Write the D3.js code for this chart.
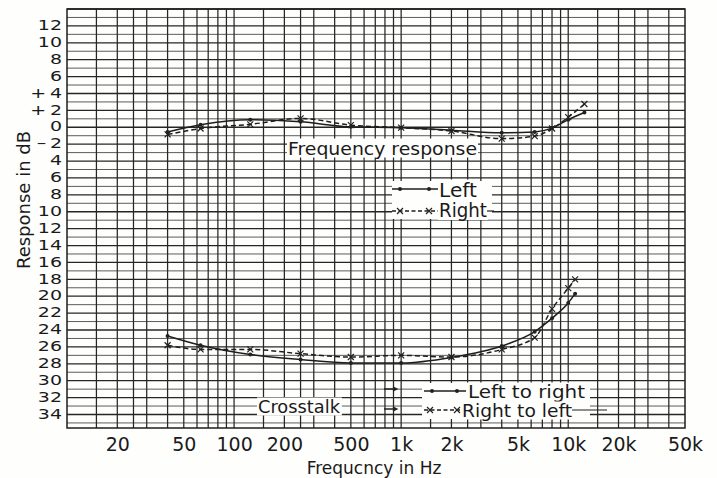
<!DOCTYPE html>
<html><head><meta charset="utf-8">
<script src="https://cdn.jsdelivr.net/npm/d3@7"></script>
<style>
html,body{margin:0;padding:0;background:#fff;}
svg{display:block;font-family:"DejaVu Sans",sans-serif;}
</style></head>
<body><div id="chart"></div>
<script>
// ---- data ----
const frFreqs = [40, 63, 125, 250, 500, 1000, 2000, 4000, 6300, 8000, 10000, 12500];
const frLeft  = [-0.55, 0.3, 0.9, 0.65, 0.05, -0.05, -0.35, -0.65, -0.55, -0.1, 0.9, 1.75];
const frRight = [-0.85, -0.15, 0.35, 1.05, 0.25, -0.05, -0.45, -1.35, -1.05, -0.15, 1.2, 2.75];
const ctFreqs = [40, 63, 125, 250, 500, 1000, 2000, 4000, 6300, 8000, 10000, 11000];
const ctLeftToRight = [-24.7, -25.8, -26.9, -27.5, -27.9, -27.9, -27.25, -25.9, -24.2, -22.6, -20.8, -19.7];
const ctRightToLeft = [-25.8, -26.3, -26.3, -26.8, -27.2, -27.0, -27.2, -26.3, -24.9, -21.5, -19.05, -18.0];
const xTickValues = [20, 50, 100, 200, 500, 1000, 2000, 5000, 10000, 20000, 50000];
const xTickLabels = ["20", "50", "100", "200", "500", "1k", "2k", "5k", "10k", "20k", "50k"];
const yTickValues = [12, 10, 8, 6, 4, 2, 0, -2, -4, -6, -8, -10, -12, -14, -16, -18, -20, -22, -24, -26, -28, -30, -32, -34];
const yTickLabels = ["12", "10", "8", "6", "+\u20094", "+\u20092", "0", "\u2013\u20092", "4", "6", "8", "10", "12", "14", "16", "18", "20", "22", "24", "26", "28", "30", "32", "34"];
const xGridValues = [15, 20, 25, 30, 40, 50, 60, 70, 80, 90, 100, 150, 200, 250, 300, 400, 500, 600, 700, 800, 900, 1000,
  1500, 2000, 2500, 3000, 4000, 5000, 6000, 7000, 8000, 9000, 10000, 15000, 20000, 25000, 30000, 40000];
const yGridValues = d3.range(14, -36, -1);

// ---- layout ----
const W = 717, H = 478;
const L = 67, R = 685, T = 9, B = 428;
const x = d3.scaleLog().domain([10, 50000]).range([L, R]);
const y = d3.scaleLinear().domain([14, -35.6]).range([T, B]);

const svg = d3.select("#chart").append("svg").attr("width", W).attr("height", H);
svg.append("rect").attr("width", W).attr("height", H).attr("fill", "#fefefd");

// grid
const grid = svg.append("g");
grid.selectAll("line.h").data(yGridValues).join("line")
  .attr("x1", L).attr("x2", R).attr("y1", d => y(d)).attr("y2", d => y(d))
  .attr("stroke", d => d % 2 === 0 ? "#262626" : "#4a4a4a")
  .attr("stroke-width", d => d % 2 === 0 ? 1.3 : 0.9);
grid.selectAll("line.v").data(xGridValues).join("line")
  .attr("x1", d => x(d)).attr("x2", d => x(d)).attr("y1", T).attr("y2", B)
  .attr("stroke", "#262626").attr("stroke-width", 1.25);
svg.append("rect").attr("x", L).attr("y", T).attr("width", R - L).attr("height", B - T)
  .attr("fill", "none").attr("stroke", "#1e1e1e").attr("stroke-width", 1.5);

// axes labels
const xAxis = d3.axisBottom(x).tickValues(xTickValues).tickSize(0).tickPadding(0)
  .tickFormat((d, i) => xTickLabels[i]);
const gx = svg.append("g").attr("transform", `translate(0,${B})`).call(xAxis);
gx.select(".domain").remove();
gx.selectAll("text").attr("font-size", 19).attr("font-family", "DejaVu Sans, sans-serif")
  .attr("fill", "#1a1a1a").attr("dy", null).attr("y", 23);

const yAxis = d3.axisLeft(y).tickValues(yTickValues).tickSize(0).tickPadding(0)
  .tickFormat((d, i) => yTickLabels[i]);
const gy = svg.append("g").attr("transform", `translate(${L - 5},0)`).call(yAxis);
gy.select(".domain").remove();
gy.selectAll("text").attr("font-size", 19).attr("font-family", "DejaVu Sans, sans-serif")
  .attr("fill", "#1a1a1a").attr("x", 0).attr("y", 0).attr("dy", "0.36em")
  .attr("transform", "translate(0,-1.5) scale(1,0.76)");

svg.append("text").attr("transform", "translate(30,200) rotate(-90)")
  .attr("text-anchor", "middle").attr("font-size", 18).attr("fill", "#1a1a1a")
  .text("Response in dB");
svg.append("text").attr("x", (L + R) / 2 - 2).attr("y", 474)
  .attr("text-anchor", "middle").attr("font-size", 17).attr("fill", "#1a1a1a")
  .text("Frequcncy in Hz");

// labelled text boxes inside plot
function boxText(tx, ty, str, size, len) {
  const t = svg.append("text").attr("x", tx).attr("y", ty).attr("font-size", size)
    .attr("fill", "#1a1a1a").text(str);
  if (len) t.attr("textLength", len).attr("lengthAdjust", "spacingAndGlyphs");
  const bb = t.node().getBBox();
  svg.insert("rect", () => t.node()).attr("x", bb.x - 1).attr("y", bb.y + 1)
    .attr("width", bb.width + 2).attr("height", bb.height - 2).attr("fill", "#fefefd");
  return t;
}

// curves
const line = d3.line().x(d => x(d[0])).y(d => y(d[1])).curve(d3.curveMonotoneX);
const series = [
  { f: frFreqs, v: frLeft, dash: null, mark: "dot" },
  { f: frFreqs, v: frRight, dash: "5,3", mark: "x" },
  { f: ctFreqs, v: ctLeftToRight, dash: null, mark: "dot" },
  { f: ctFreqs, v: ctRightToLeft, dash: "5,3", mark: "x" }
];
function drawMark(g, px, py, type) {
  if (type === "dot") {
    g.append("circle").attr("cx", px).attr("cy", py).attr("r", 2).attr("fill", "#222");
  } else {
    const s = 3;
    g.append("path").attr("d", `M${px - s},${py - s}L${px + s},${py + s}M${px - s},${py + s}L${px + s},${py - s}`)
      .attr("stroke", "#222").attr("stroke-width", 1.2);
  }
}
const cg = svg.append("g");
series.forEach(s => {
  const pts = s.f.map((f, i) => [f, s.v[i]]);
  cg.append("path").attr("d", line(pts)).attr("fill", "none").attr("stroke", "#1e1e1e")
    .attr("stroke-width", 1.5).attr("stroke-dasharray", s.dash);
  pts.forEach(p => drawMark(cg, x(p[0]), y(p[1]), s.mark));
});

// legend: frequency response
boxText(288, 154.5, "Frequency response", 18.5, 189);
function legendSample(x1, x2, yy, dash, mark, m1, m2) {
  svg.append("line").attr("x1", x1).attr("x2", x2).attr("y1", yy).attr("y2", yy)
    .attr("stroke", "#1e1e1e").attr("stroke-width", 1.3).attr("stroke-dasharray", dash);
  drawMark(svg, m1, yy, mark);
  drawMark(svg, m2, yy, mark);
}
svg.append("rect").attr("x", 392).attr("y", 181).attr("width", 100).attr("height", 38).attr("fill", "#fefefd");
legendSample(392, 438, 189, null, "dot", 400, 429);
legendSample(392, 438, 211, "4,2.5", "x", 400, 429);
boxText(439, 196.5, "Left", 19, 38);
boxText(439, 217, "Right", 19, 48);
svg.append("line").attr("x1", 487).attr("x2", 494).attr("y1", 211).attr("y2", 211).attr("stroke", "#1e1e1e").attr("stroke-width", 1.2);

// legend: crosstalk
svg.append("rect").attr("x", 422).attr("y", 383).attr("width", 168).attr("height", 36).attr("fill", "#fefefd");
legendSample(424, 466, 391, null, "dot", 432, 457);
legendSample(424, 460, 410, "4,2.5", "x", 430, 457);
boxText(468, 397.5, "Left to right", 17, 117);
boxText(462, 416.5, "Right to left", 17, 110);
svg.append("line").attr("x1", 572).attr("x2", 607).attr("y1", 410).attr("y2", 410).attr("stroke", "#1e1e1e").attr("stroke-width", 1.2);
boxText(258, 412.5, "Crosstalk", 17.5, 82);
[389, 409].forEach(ay => {
  svg.append("path").attr("d", `M384,${ay}L397,${ay}M393,${ay - 2}L397,${ay}L393,${ay + 2}`)
    .attr("stroke", "#222").attr("stroke-width", 1.3).attr("fill", "none");
});
</script>
</body></html>
